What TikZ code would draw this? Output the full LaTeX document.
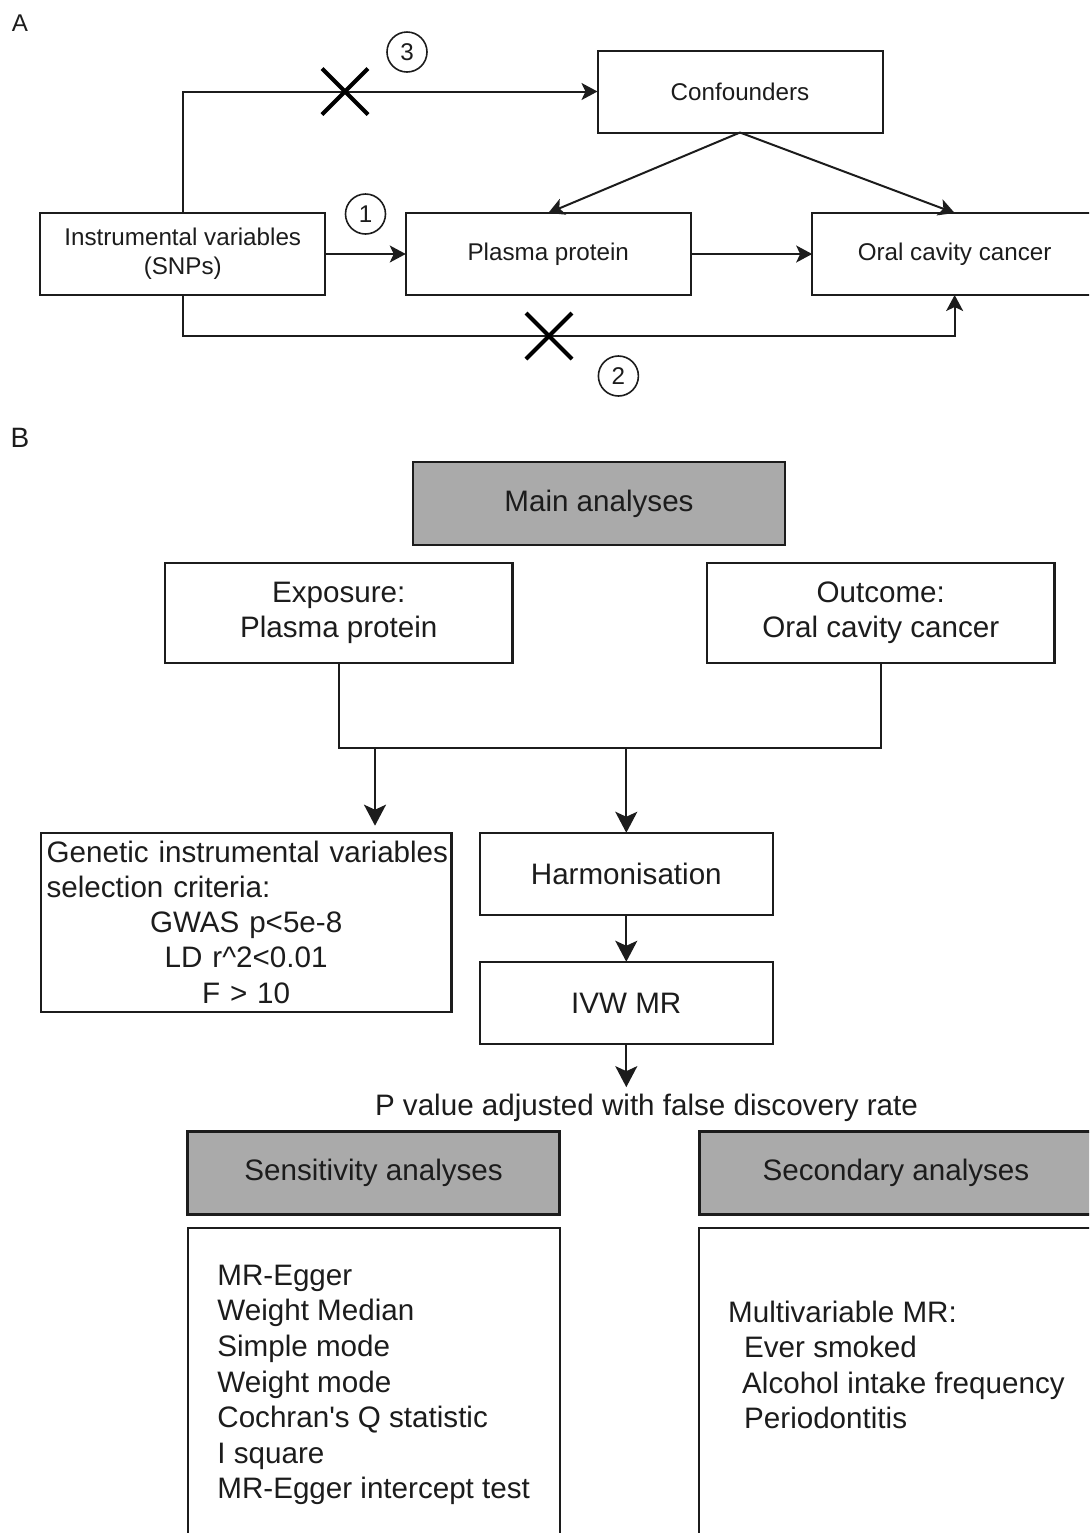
\documentclass[tikz,border=0pt]{standalone}
\usepackage{fontspec}
\setmainfont{Liberation Sans}
\usepackage{xcolor}
\usepackage{tikz}
\usetikzlibrary{positioning,arrows.meta,shapes.misc}
\definecolor{headgray}{HTML}{AAAAAA}
\definecolor{inkgray}{HTML}{1C1C1C}

\begin{document}
\begin{tikzpicture}[
    x=0.5pt, y=-0.5pt,
    font=\fontsize{12.1}{14.5}\selectfont,
    text=inkgray,
    a_box/.style={draw=inkgray, line width=1pt, outer sep=0pt, inner sep=2pt, align=center, minimum width=142.5pt, minimum height=41pt},
    b_box/.style={draw=inkgray, line width=1.1pt, outer sep=0pt, inner sep=2pt, align=center, font=\fontsize{14.8}{17.6}\selectfont},
    head_box/.style={b_box, fill=headgray, line width=1.3pt, minimum width=186pt, minimum height=41.5pt},
    num_mark/.style={circle, draw=inkgray, line width=0.8pt, minimum size=20pt, inner sep=0pt},
    cross_mark/.style={cross out, draw=black, line width=2pt, minimum size=21pt, inner sep=0pt},
    list_txt/.style={align=left, inner sep=0pt, font=\fontsize{14.8}{17.8}\selectfont},
    line/.style={draw=inkgray, line width=1pt},
    arrow/.style={->, >={Stealth[length=8pt,width=8.5pt,inset=2pt]}, line width=1pt, draw=inkgray},
    arrow_b/.style={->, >={Stealth[length=10.5pt,width=11pt,inset=2.5pt]}, line width=1.1pt, draw=inkgray}
]
\useasboundingbox (0,0) rectangle (1089,1533);
\clip (0,0) rectangle (1089,1533);

% Panel A
\node[inner sep=0pt] (labA) at (20,23) {A};
\node (iv) [a_box] at (182.75,254) {Instrumental variables\\(SNPs)};
\node (plasma) [a_box, right=40.25pt of iv] {Plasma protein};
\node (oral) [a_box, right=60.7pt of plasma] {Oral cavity cancer};
\node (conf) [a_box] at (740,91.5) {Confounders};

\node (n1) [num_mark] at (365.5,214) {1};
\node (n2) [num_mark] at (618.4,376) {2};
\node (n3) [num_mark] at (407,52) {3};

\draw [arrow] (iv.north) |- (conf.west);
\draw [arrow] (iv.east) -- (plasma.west);
\draw [arrow] (plasma.east) -- (oral.west);
\draw [arrow] (conf.south) -- (plasma.north);
\draw [arrow] (conf.south) -- (oral.north);
\draw [arrow] (iv.south) -- ++(0,41) -| (oral.south);

\node (x3) [cross_mark] at (345,91.5) {};
\node (x2) [cross_mark] at (549,336) {};

% Panel B
\node[inner sep=0pt, font=\fontsize{14}{16}\selectfont] (labB) at (20,438) {B};
\node (main) [head_box] at (599,503.5) {Main analyses};
\node (expo) [b_box, minimum width=173.75pt, minimum height=50pt] at (338.75,613) {Exposure:\\Plasma protein};
\node (outc) [b_box, minimum width=173.75pt, minimum height=50pt, right=97.25pt of expo] {Outcome:\\Oral cavity cancer};

\node (gen) [b_box, text width=199.5pt, inner xsep=2.9pt, minimum height=89.5pt] at (246.15,922.2) {\makebox[199.5pt][l]{Genetic instrumental variables}\\\makebox[199.5pt][l]{selection criteria:}\\GWAS p<5e-8\\LD r\textasciicircum 2<0.01\\F > 10};
\node (harm) [b_box, minimum width=146.7pt, minimum height=41.15pt] at (626.3,873.9) {Harmonisation};
\node (ivw) [b_box, minimum width=146.7pt, minimum height=41.15pt, below=23.35pt of harm] {IVW MR};
\node (pval) [font=\fontsize{14.8}{17.6}\selectfont] at (646.5,1108) {P value adjusted with false discovery rate};

\node (sens) [head_box] at (373.6,1173) {Sensitivity analyses};
\node (sec) [head_box, minimum width=196.7pt] at (896,1173) {Secondary analyses};
\node (senslist) [b_box, minimum width=186pt, minimum height=200pt, anchor=north] at (373.6,1228) {};
\node (seclist) [b_box, minimum width=196.7pt, minimum height=200pt, anchor=north] at (896,1228) {};
\node (senstxt) [list_txt, anchor=west] at (217,1385) {MR-Egger\\Weight Median\\Simple mode\\Weight mode\\Cochran\textquotesingle s Q statistic\\I square\\MR-Egger intercept test};
\node (sectxt) [list_txt, anchor=west] at (727.8,1365) {Multivariable MR:\\\hspace*{8pt}Ever smoked\\\hspace*{7pt}Alcohol intake frequency\\\hspace*{8pt}Periodontitis};

\coordinate (jl) at (375,748);
\coordinate (jr) at (626.3,748);
\draw [line] (expo.south) -- ++(0,85) -| (outc.south);
\draw [arrow_b, shorten >=3.5pt] (jl) -- (jl |- gen.north);
\draw [arrow_b] (jr) -- (jr |- harm.north);
\draw [arrow_b] (harm) -- (ivw);
\draw [arrow_b] (ivw.south) -- (ivw.south |- pval.north);

\end{tikzpicture}
\end{document}
